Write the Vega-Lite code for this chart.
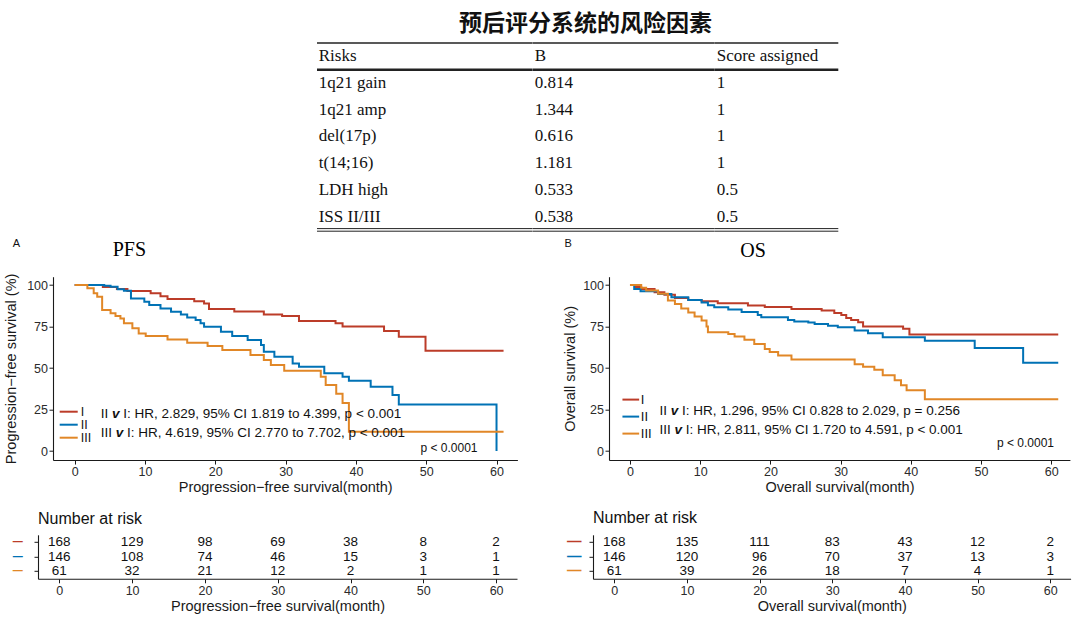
{
  "$schema": "https://vega.github.io/schema/vega-lite/v6.json",
  "background": "white",
  "padding": {"left": 3, "top": 13, "right": 2, "bottom": 2},
  "config": {
    "view": {"stroke": null},
    "font": "Liberation Sans",
    "axis": {"domainColor": "#1a1a1a", "domainWidth": 1.1, "tickColor": "#1a1a1a", "tickSize": 4, "tickWidth": 1, "labelColor": "#2b2b2b", "labelFontSize": 12.5, "labelFont": "Liberation Sans", "titleFont": "Liberation Sans", "titleFontSize": 14.5, "titleFontWeight": "normal", "titleColor": "#1a1a1a", "grid": false, "labelPadding": 1.5, "titlePadding": 2.5, "labelFlush": false, "labelOverlap": false}
  },
  "title": {"text": "预后评分系统的风险因素", "anchor": "middle", "frame": "bounds", "dx": 48.3, "offset": -12, "baseline": "alphabetic", "font": "Noto Sans CJK SC", "fontSize": 23, "fontWeight": "bold", "color": "#111"},
  "datasets": {
    "table": [
      {"Risks": "Risks", "B": "B", "Score": "Score assigned"},
      {"Risks": "1q21 gain", "B": "0.814", "Score": "1"},
      {"Risks": "1q21 amp", "B": "1.344", "Score": "1"},
      {"Risks": "del(17p)", "B": "0.616", "Score": "1"},
      {"Risks": "t(14;16)", "B": "1.181", "Score": "1"},
      {"Risks": "LDH high", "B": "0.533", "Score": "0.5"},
      {"Risks": "ISS II/III", "B": "0.538", "Score": "0.5"}
    ],
    "pfs": [
      {"group": "I", "time": 0, "surv": 100}, {"group": "I", "time": 4, "surv": 98.8}, {"group": "I", "time": 6, "surv": 97.6}, {"group": "I", "time": 7.5, "surv": 96.4}, {"group": "I", "time": 10.8, "surv": 95}, {"group": "I", "time": 12.2, "surv": 93.2}, {"group": "I", "time": 13.2, "surv": 91.6}, {"group": "I", "time": 17, "surv": 90.2}, {"group": "I", "time": 18.4, "surv": 88.9}, {"group": "I", "time": 19.1, "surv": 85.5}, {"group": "I", "time": 22.7, "surv": 84}, {"group": "I", "time": 26.9, "surv": 82.3}, {"group": "I", "time": 29.5, "surv": 81.3}, {"group": "I", "time": 31.9, "surv": 78.3}, {"group": "I", "time": 37.1, "surv": 76.9}, {"group": "I", "time": 38.1, "surv": 75}, {"group": "I", "time": 44, "surv": 72.3}, {"group": "I", "time": 46.1, "surv": 68.9}, {"group": "I", "time": 49.9, "surv": 60.4}, {"group": "I", "time": 61, "surv": 60.4},
      {"group": "II", "time": 0, "surv": 100}, {"group": "II", "time": 4.2, "surv": 99.5}, {"group": "II", "time": 5.1, "surv": 99}, {"group": "II", "time": 6.1, "surv": 97.4}, {"group": "II", "time": 7, "surv": 96.6}, {"group": "II", "time": 8, "surv": 91.9}, {"group": "II", "time": 9.9, "surv": 89.9}, {"group": "II", "time": 10.6, "surv": 87.9}, {"group": "II", "time": 12.2, "surv": 85.9}, {"group": "II", "time": 13.7, "surv": 83.9}, {"group": "II", "time": 15.1, "surv": 82.3}, {"group": "II", "time": 16, "surv": 80.5}, {"group": "II", "time": 17.2, "surv": 78.9}, {"group": "II", "time": 17.9, "surv": 76.9}, {"group": "II", "time": 18.4, "surv": 74.9}, {"group": "II", "time": 20.8, "surv": 71.9}, {"group": "II", "time": 22.4, "surv": 69.3}, {"group": "II", "time": 24.6, "surv": 66.9}, {"group": "II", "time": 26.5, "surv": 63.9}, {"group": "II", "time": 26.9, "surv": 59.8}, {"group": "II", "time": 28.4, "surv": 56.8}, {"group": "II", "time": 31, "surv": 52.8}, {"group": "II", "time": 31.9, "surv": 50.8}, {"group": "II", "time": 35.5, "surv": 46.8}, {"group": "II", "time": 38.1, "surv": 44.8}, {"group": "II", "time": 39, "surv": 42.4}, {"group": "II", "time": 42.1, "surv": 38.7}, {"group": "II", "time": 45.2, "surv": 33.7}, {"group": "II", "time": 46.1, "surv": 28}, {"group": "II", "time": 60, "surv": 0},
      {"group": "III", "time": 0, "surv": 100}, {"group": "III", "time": 1.8, "surv": 98}, {"group": "III", "time": 2.7, "surv": 95}, {"group": "III", "time": 3.2, "surv": 93}, {"group": "III", "time": 3.9, "surv": 85}, {"group": "III", "time": 5.1, "surv": 83}, {"group": "III", "time": 5.8, "surv": 81.3}, {"group": "III", "time": 6.5, "surv": 79.8}, {"group": "III", "time": 7, "surv": 76.9}, {"group": "III", "time": 8.2, "surv": 73.9}, {"group": "III", "time": 9.1, "surv": 70.8}, {"group": "III", "time": 10.1, "surv": 69.3}, {"group": "III", "time": 13.2, "surv": 67.2}, {"group": "III", "time": 16, "surv": 65.2}, {"group": "III", "time": 18.9, "surv": 63.3}, {"group": "III", "time": 21, "surv": 60.8}, {"group": "III", "time": 25, "surv": 57.8}, {"group": "III", "time": 26.9, "surv": 54.8}, {"group": "III", "time": 27.9, "surv": 51.8}, {"group": "III", "time": 29.8, "surv": 48.3}, {"group": "III", "time": 35, "surv": 44.8}, {"group": "III", "time": 35.7, "surv": 39.8}, {"group": "III", "time": 37.2, "surv": 34.5}, {"group": "III", "time": 38.1, "surv": 29}, {"group": "III", "time": 39, "surv": 11.6}, {"group": "III", "time": 61, "surv": 11.6}
    ],
    "os": [
      {"group": "I", "time": 0, "surv": 100}, {"group": "I", "time": 0.8, "surv": 98.8}, {"group": "I", "time": 1.6, "surv": 97.6}, {"group": "I", "time": 3.5, "surv": 95.6}, {"group": "I", "time": 4.9, "surv": 94.2}, {"group": "I", "time": 6.4, "surv": 92.2}, {"group": "I", "time": 8.3, "surv": 91}, {"group": "I", "time": 10.2, "surv": 90.2}, {"group": "I", "time": 12.5, "surv": 89}, {"group": "I", "time": 16.8, "surv": 87.6}, {"group": "I", "time": 19.2, "surv": 86.8}, {"group": "I", "time": 23, "surv": 85.6}, {"group": "I", "time": 27.3, "surv": 84.6}, {"group": "I", "time": 29.1, "surv": 83.2}, {"group": "I", "time": 30.1, "surv": 82}, {"group": "I", "time": 30.8, "surv": 80.2}, {"group": "I", "time": 31.5, "surv": 79}, {"group": "I", "time": 32.5, "surv": 77.6}, {"group": "I", "time": 33.2, "surv": 75}, {"group": "I", "time": 38.9, "surv": 73.6}, {"group": "I", "time": 39.8, "surv": 70.2}, {"group": "I", "time": 61, "surv": 70.2},
      {"group": "II", "time": 0, "surv": 100}, {"group": "II", "time": 0.6, "surv": 97.6}, {"group": "II", "time": 1.5, "surv": 96.2}, {"group": "II", "time": 4, "surv": 94.6}, {"group": "II", "time": 5.9, "surv": 92.7}, {"group": "II", "time": 8.3, "surv": 91}, {"group": "II", "time": 10.2, "surv": 89.4}, {"group": "II", "time": 11.1, "surv": 87.8}, {"group": "II", "time": 12, "surv": 86.6}, {"group": "II", "time": 14, "surv": 85.2}, {"group": "II", "time": 15.9, "surv": 83.8}, {"group": "II", "time": 18.2, "surv": 82}, {"group": "II", "time": 18.7, "surv": 80.6}, {"group": "II", "time": 22.5, "surv": 79}, {"group": "II", "time": 23.4, "surv": 78}, {"group": "II", "time": 25.4, "surv": 77.4}, {"group": "II", "time": 26.3, "surv": 76.5}, {"group": "II", "time": 28.2, "surv": 75.5}, {"group": "II", "time": 29.6, "surv": 74.6}, {"group": "II", "time": 32, "surv": 72.6}, {"group": "II", "time": 33.9, "surv": 71}, {"group": "II", "time": 36, "surv": 68.6}, {"group": "II", "time": 42, "surv": 66.4}, {"group": "II", "time": 49.1, "surv": 62}, {"group": "II", "time": 56, "surv": 53.2}, {"group": "II", "time": 61, "surv": 53.2},
      {"group": "III", "time": 0, "surv": 100}, {"group": "III", "time": 1.6, "surv": 98.4}, {"group": "III", "time": 2.3, "surv": 96.7}, {"group": "III", "time": 4, "surv": 94.8}, {"group": "III", "time": 5.4, "surv": 90.7}, {"group": "III", "time": 6.4, "surv": 88.6}, {"group": "III", "time": 7.3, "surv": 85.8}, {"group": "III", "time": 8.3, "surv": 83.4}, {"group": "III", "time": 9.2, "surv": 81}, {"group": "III", "time": 10.2, "surv": 78.6}, {"group": "III", "time": 10.9, "surv": 75}, {"group": "III", "time": 11.1, "surv": 71.5}, {"group": "III", "time": 14, "surv": 70.5}, {"group": "III", "time": 14.9, "surv": 69}, {"group": "III", "time": 16.3, "surv": 67}, {"group": "III", "time": 17.7, "surv": 64.5}, {"group": "III", "time": 19.2, "surv": 61.5}, {"group": "III", "time": 19.9, "surv": 59.6}, {"group": "III", "time": 21.1, "surv": 57.6}, {"group": "III", "time": 23, "surv": 55.2}, {"group": "III", "time": 32, "surv": 52.3}, {"group": "III", "time": 33.2, "surv": 50.8}, {"group": "III", "time": 34.8, "surv": 49}, {"group": "III", "time": 36, "surv": 45.6}, {"group": "III", "time": 37.7, "surv": 42.6}, {"group": "III", "time": 38.6, "surv": 39.6}, {"group": "III", "time": 39.4, "surv": 36.6}, {"group": "III", "time": 42, "surv": 31.2}, {"group": "III", "time": 61, "surv": 31.2}
    ],
    "pfs_risk": [
      {"group": "I", "time": 0, "n": 168}, {"group": "I", "time": 10, "n": 129}, {"group": "I", "time": 20, "n": 98}, {"group": "I", "time": 30, "n": 69}, {"group": "I", "time": 40, "n": 38}, {"group": "I", "time": 50, "n": 8}, {"group": "I", "time": 60, "n": 2},
      {"group": "II", "time": 0, "n": 146}, {"group": "II", "time": 10, "n": 108}, {"group": "II", "time": 20, "n": 74}, {"group": "II", "time": 30, "n": 46}, {"group": "II", "time": 40, "n": 15}, {"group": "II", "time": 50, "n": 3}, {"group": "II", "time": 60, "n": 1},
      {"group": "III", "time": 0, "n": 61}, {"group": "III", "time": 10, "n": 32}, {"group": "III", "time": 20, "n": 21}, {"group": "III", "time": 30, "n": 12}, {"group": "III", "time": 40, "n": 2}, {"group": "III", "time": 50, "n": 1}, {"group": "III", "time": 60, "n": 1}
    ],
    "os_risk": [
      {"group": "I", "time": 0, "n": 168}, {"group": "I", "time": 10, "n": 135}, {"group": "I", "time": 20, "n": 111}, {"group": "I", "time": 30, "n": 83}, {"group": "I", "time": 40, "n": 43}, {"group": "I", "time": 50, "n": 12}, {"group": "I", "time": 60, "n": 2},
      {"group": "II", "time": 0, "n": 146}, {"group": "II", "time": 10, "n": 120}, {"group": "II", "time": 20, "n": 96}, {"group": "II", "time": 30, "n": 70}, {"group": "II", "time": 40, "n": 37}, {"group": "II", "time": 50, "n": 13}, {"group": "II", "time": 60, "n": 3},
      {"group": "III", "time": 0, "n": 61}, {"group": "III", "time": 10, "n": 39}, {"group": "III", "time": 20, "n": 26}, {"group": "III", "time": 30, "n": 18}, {"group": "III", "time": 40, "n": 7}, {"group": "III", "time": 50, "n": 4}, {"group": "III", "time": 60, "n": 1}
    ]
  },
  "spacing": 4.7,
  "resolve": {"scale": {"x": "independent", "y": "independent", "color": "independent"}, "legend": {"color": "independent"}, "axis": {"x": "independent", "y": "independent"}},
  "vconcat": [
    {
      "spacing": 0,
      "bounds": "flush",
      "resolve": {"scale": {"x": "independent", "y": "independent", "color": "independent"}, "legend": {"color": "independent"}, "axis": {"x": "independent", "y": "independent"}},
      "hconcat": [
        {"width": 278.1, "height": 1, "data": {"values": []}, "mark": {"type": "point", "opacity": 0}, "encoding": {}},
        {
          "width": 215.7, "height": 186.9,
          "data": {"name": "table"},
          "layer": [
            {"mark": {"type": "text", "align": "left", "baseline": "middle", "dx": 1.7, "font": "Liberation Serif", "fontSize": 17, "color": "#111"},
             "encoding": {"x": {"datum": 0, "type": "quantitative", "scale": {"domain": [0, 1]}, "axis": null},
                          "y": {"field": "Risks", "type": "nominal", "scale": {"type": "band", "paddingInner": 0, "paddingOuter": 0, "domain": ["Risks", "1q21 gain", "1q21 amp", "del(17p)", "t(14;16)", "LDH high", "ISS II/III"]}, "axis": null},
                          "text": {"field": "Risks"}}},
            {"data": {"values": [{}]}, "mark": {"type": "rule", "strokeWidth": 1.5, "color": "#222"}, "encoding": {"y": {"datum": "Risks", "type": "nominal", "bandPosition": 0}}},
            {"data": {"values": [{}]}, "mark": {"type": "rule", "strokeWidth": 2.4, "color": "#222"}, "encoding": {"y": {"datum": "1q21 gain", "type": "nominal", "bandPosition": 0}}},
            {"data": {"values": [{}]}, "mark": {"type": "rule", "strokeWidth": 1, "color": "#222", "yOffset": -1.3}, "encoding": {"y": {"datum": "ISS II/III", "type": "nominal", "bandPosition": 1}}},
            {"data": {"values": [{}]}, "mark": {"type": "rule", "strokeWidth": 1, "color": "#222", "yOffset": 1.3}, "encoding": {"y": {"datum": "ISS II/III", "type": "nominal", "bandPosition": 1}}}
          ]
        },
        {
          "width": 181.8, "height": 186.9,
          "data": {"name": "table"},
          "layer": [
            {"mark": {"type": "text", "align": "left", "baseline": "middle", "dx": 1.7, "font": "Liberation Serif", "fontSize": 17, "color": "#111"},
             "encoding": {"x": {"datum": 0, "type": "quantitative", "scale": {"domain": [0, 1]}, "axis": null},
                          "y": {"field": "Risks", "type": "nominal", "scale": {"type": "band", "paddingInner": 0, "paddingOuter": 0, "domain": ["Risks", "1q21 gain", "1q21 amp", "del(17p)", "t(14;16)", "LDH high", "ISS II/III"]}, "axis": null},
                          "text": {"field": "B"}}},
            {"data": {"values": [{}]}, "mark": {"type": "rule", "strokeWidth": 1.5, "color": "#222"}, "encoding": {"y": {"datum": "Risks", "type": "nominal", "bandPosition": 0}}},
            {"data": {"values": [{}]}, "mark": {"type": "rule", "strokeWidth": 2.4, "color": "#222"}, "encoding": {"y": {"datum": "1q21 gain", "type": "nominal", "bandPosition": 0}}},
            {"data": {"values": [{}]}, "mark": {"type": "rule", "strokeWidth": 1, "color": "#222", "yOffset": -1.3}, "encoding": {"y": {"datum": "ISS II/III", "type": "nominal", "bandPosition": 1}}},
            {"data": {"values": [{}]}, "mark": {"type": "rule", "strokeWidth": 1, "color": "#222", "yOffset": 1.3}, "encoding": {"y": {"datum": "ISS II/III", "type": "nominal", "bandPosition": 1}}}
          ]
        },
        {
          "width": 123.3, "height": 186.9,
          "data": {"name": "table"},
          "layer": [
            {"mark": {"type": "text", "align": "left", "baseline": "middle", "dx": 1.7, "font": "Liberation Serif", "fontSize": 17, "color": "#111"},
             "encoding": {"x": {"datum": 0, "type": "quantitative", "scale": {"domain": [0, 1]}, "axis": null},
                          "y": {"field": "Risks", "type": "nominal", "scale": {"type": "band", "paddingInner": 0, "paddingOuter": 0, "domain": ["Risks", "1q21 gain", "1q21 amp", "del(17p)", "t(14;16)", "LDH high", "ISS II/III"]}, "axis": null},
                          "text": {"field": "Score"}}},
            {"data": {"values": [{}]}, "mark": {"type": "rule", "strokeWidth": 1.5, "color": "#222"}, "encoding": {"y": {"datum": "Risks", "type": "nominal", "bandPosition": 0}}},
            {"data": {"values": [{}]}, "mark": {"type": "rule", "strokeWidth": 2.4, "color": "#222"}, "encoding": {"y": {"datum": "1q21 gain", "type": "nominal", "bandPosition": 0}}},
            {"data": {"values": [{}]}, "mark": {"type": "rule", "strokeWidth": 1, "color": "#222", "yOffset": -1.3}, "encoding": {"y": {"datum": "ISS II/III", "type": "nominal", "bandPosition": 1}}},
            {"data": {"values": [{}]}, "mark": {"type": "rule", "strokeWidth": 1, "color": "#222", "yOffset": 1.3}, "encoding": {"y": {"datum": "ISS II/III", "type": "nominal", "bandPosition": 1}}}
          ]
        }
      ]
    },
    {
      "spacing": 15.1,
      "resolve": {"scale": {"x": "independent", "y": "independent", "color": "independent"}, "legend": {"color": "independent"}, "axis": {"x": "independent", "y": "independent"}},
      "vconcat": [
        {
          "spacing": 0,
          "bounds": "flush",
          "resolve": {"scale": {"x": "independent", "y": "independent", "color": "independent"}, "legend": {"color": "independent"}, "axis": {"x": "independent", "y": "independent"}},
          "hconcat": [
            {"width": 14.6, "height": 1, "data": {"values": []}, "mark": {"type": "point", "opacity": 0}, "encoding": {}},
            {
              "width": 464.4, "height": 183.35,
              "layer": [
                {"data": {"name": "pfs"}, "mark": {"type": "line", "interpolate": "step-after", "strokeWidth": 2},
                 "encoding": {
                   "x": {"field": "time", "type": "quantitative", "scale": {"domain": [-3.09, 62.97], "nice": false, "zero": false}, "axis": {"values": [0, 10, 20, 30, 40, 50, 60], "title": "Progression−free survival(month)"}},
                   "y": {"field": "surv", "type": "quantitative", "scale": {"domain": [-5.4, 105], "nice": false, "zero": false}, "axis": {"values": [0, 25, 50, 75, 100], "title": "Progression−free survival  (%)", "titlePadding": 8}},
                   "color": {"field": "group", "type": "nominal", "scale": {"domain": ["I", "II", "III"], "range": ["#BC3C29", "#0072B5", "#E18727"]},
                             "legend": {"orient": "none", "legendX": 9.2, "legendY": 128.5, "title": null, "symbolType": "M-1.64,0H1.64", "symbolSize": 121, "symbolStrokeWidth": 2, "labelFontSize": 12.5, "labelFont": "Liberation Sans", "labelColor": "#111", "rowPadding": -5, "labelOffset": 5.5, "padding": 0}}
                 }},
                {"data": {"values": [{}]}, "mark": {"type": "text", "align": "left", "baseline": "alphabetic", "font": "Liberation Serif", "fontSize": 20, "color": "#000"}, "encoding": {"x": {"datum": 5.4}, "y": {"datum": 117.2}, "text": {"value": "PFS"}}},
                {"data": {"values": [{}]}, "mark": {"type": "text", "fontSize": 11, "color": "#111"}, "encoding": {"x": {"datum": -8.3}, "y": {"datum": 124.6}, "text": {"value": "A"}}},
                {"data": {"values": [{}]}, "mark": {"type": "text", "align": "left", "baseline": "middle", "fontSize": 13.5, "color": "#111"}, "encoding": {"x": {"datum": 3.7}, "y": {"datum": 22.6}, "text": {"value": "II"}}},
                {"data": {"values": [{}]}, "mark": {"type": "text", "align": "left", "baseline": "middle", "fontSize": 13.5, "color": "#111", "fontStyle": "italic", "fontWeight": "bold", "dx": 11.3}, "encoding": {"x": {"datum": 3.7}, "y": {"datum": 22.6}, "text": {"value": "v"}}},
                {"data": {"values": [{}]}, "mark": {"type": "text", "align": "left", "baseline": "middle", "fontSize": 13.5, "color": "#111", "dx": 22.5}, "encoding": {"x": {"datum": 3.7}, "y": {"datum": 22.6}, "text": {"value": "I: HR, 2.829, 95% CI 1.819 to 4.399, p < 0.001"}}},
                {"data": {"values": [{}]}, "mark": {"type": "text", "align": "left", "baseline": "middle", "fontSize": 13.5, "color": "#111"}, "encoding": {"x": {"datum": 3.7}, "y": {"datum": 10.6}, "text": {"value": "III"}}},
                {"data": {"values": [{}]}, "mark": {"type": "text", "align": "left", "baseline": "middle", "fontSize": 13.5, "color": "#111", "fontStyle": "italic", "fontWeight": "bold", "dx": 15}, "encoding": {"x": {"datum": 3.7}, "y": {"datum": 10.6}, "text": {"value": "v"}}},
                {"data": {"values": [{}]}, "mark": {"type": "text", "align": "left", "baseline": "middle", "fontSize": 13.5, "color": "#111", "dx": 26.3}, "encoding": {"x": {"datum": 3.7}, "y": {"datum": 10.6}, "text": {"value": "I: HR, 4.619, 95% CI 2.770 to 7.702, p < 0.001"}}},
                {"data": {"values": [{}]}, "mark": {"type": "text", "align": "right", "baseline": "middle", "fontSize": 12, "color": "#111"}, "encoding": {"x": {"datum": 57.3}, "y": {"datum": 2}, "text": {"value": "p < 0.0001"}}}
              ]
            },
            {"width": 91, "height": 1, "data": {"values": []}, "mark": {"type": "point", "opacity": 0}, "encoding": {}},
            {
              "width": 460.9, "height": 183.35,
              "layer": [
                {"data": {"name": "os"}, "mark": {"type": "line", "interpolate": "step-after", "strokeWidth": 2},
                 "encoding": {
                   "x": {"field": "time", "type": "quantitative", "scale": {"domain": [-2.99, 62.66], "nice": false, "zero": false}, "axis": {"values": [0, 10, 20, 30, 40, 50, 60], "title": "Overall survival(month)"}},
                   "y": {"field": "surv", "type": "quantitative", "scale": {"domain": [-5.4, 105], "nice": false, "zero": false}, "axis": {"values": [0, 25, 50, 75, 100], "title": "Overall survival (%)", "titlePadding": 5}},
                   "color": {"field": "group", "type": "nominal", "scale": {"domain": ["I", "II", "III"], "range": ["#BC3C29", "#0072B5", "#E18727"]},
                             "legend": {"orient": "none", "legendX": 12.3, "legendY": 113.4, "title": null, "symbolType": "stroke", "symbolSize": 279, "symbolStrokeWidth": 2, "labelFontSize": 13, "labelFont": "Liberation Sans", "labelColor": "#111", "rowPadding": 0, "labelOffset": 0.5, "padding": 0}}
                 }},
                {"data": {"values": [{}]}, "mark": {"type": "text", "align": "left", "baseline": "alphabetic", "font": "Liberation Serif", "fontSize": 20, "color": "#000"}, "encoding": {"x": {"datum": 15.7}, "y": {"datum": 116.7}, "text": {"value": "OS"}}},
                {"data": {"values": [{}]}, "mark": {"type": "text", "fontSize": 11, "color": "#111"}, "encoding": {"x": {"datum": -8.8}, "y": {"datum": 124.9}, "text": {"value": "B"}}},
                {"data": {"values": [{}]}, "mark": {"type": "text", "align": "left", "baseline": "middle", "fontSize": 13.5, "color": "#111"}, "encoding": {"x": {"datum": 4.2}, "y": {"datum": 24.2}, "text": {"value": "II"}}},
                {"data": {"values": [{}]}, "mark": {"type": "text", "align": "left", "baseline": "middle", "fontSize": 13.5, "color": "#111", "fontStyle": "italic", "fontWeight": "bold", "dx": 11.3}, "encoding": {"x": {"datum": 4.2}, "y": {"datum": 24.2}, "text": {"value": "v"}}},
                {"data": {"values": [{}]}, "mark": {"type": "text", "align": "left", "baseline": "middle", "fontSize": 13.5, "color": "#111", "dx": 22.5}, "encoding": {"x": {"datum": 4.2}, "y": {"datum": 24.2}, "text": {"value": "I: HR, 1.296, 95% CI 0.828 to 2.029, p = 0.256"}}},
                {"data": {"values": [{}]}, "mark": {"type": "text", "align": "left", "baseline": "middle", "fontSize": 13.5, "color": "#111"}, "encoding": {"x": {"datum": 4.2}, "y": {"datum": 12.8}, "text": {"value": "III"}}},
                {"data": {"values": [{}]}, "mark": {"type": "text", "align": "left", "baseline": "middle", "fontSize": 13.5, "color": "#111", "fontStyle": "italic", "fontWeight": "bold", "dx": 15}, "encoding": {"x": {"datum": 4.2}, "y": {"datum": 12.8}, "text": {"value": "v"}}},
                {"data": {"values": [{}]}, "mark": {"type": "text", "align": "left", "baseline": "middle", "fontSize": 13.5, "color": "#111", "dx": 26.3}, "encoding": {"x": {"datum": 4.2}, "y": {"datum": 12.8}, "text": {"value": "I: HR, 2.811, 95% CI 1.720 to 4.591, p < 0.001"}}},
                {"data": {"values": [{}]}, "mark": {"type": "text", "align": "right", "baseline": "middle", "fontSize": 12, "color": "#111"}, "encoding": {"x": {"datum": 60.4}, "y": {"datum": 5}, "text": {"value": "p < 0.0001"}}}
              ]
            }
          ]
        },
        {
          "spacing": 76,
          "bounds": "flush",
          "resolve": {"scale": {"x": "independent", "y": "independent", "color": "independent"}, "legend": {"color": "independent"}, "axis": {"x": "independent", "y": "independent"}},
          "hconcat": [
            {
              "width": 479, "height": 44,
              "title": {"text": "Number at risk", "anchor": "start", "frame": "group", "offset": -5.2, "baseline": "alphabetic", "fontSize": 16, "fontWeight": "normal", "font": "Liberation Sans", "color": "#111"},
              "data": {"name": "pfs_risk"},
              "mark": {"type": "text", "fontSize": 13.5, "color": "#111", "baseline": "middle"},
              "encoding": {
                "x": {"field": "time", "type": "quantitative", "scale": {"domain": [-2.93, 62.87], "nice": false, "zero": false}, "axis": {"values": [0, 10, 20, 30, 40, 50, 60], "title": "Progression−free survival(month)"}},
                "y": {"field": "group", "type": "nominal", "scale": {"type": "band", "domain": ["I", "II", "III"], "paddingInner": 0, "paddingOuter": 0},
                      "axis": {"title": null, "labelExpr": "'—'", "labelColor": {"condition": [{"test": "datum.value === 'I'", "value": "#BC3C29"}, {"test": "datum.value === 'II'", "value": "#0072B5"}], "value": "#E18727"}, "labelFontSize": 10, "labelFontWeight": "bold", "labelPadding": 11.7}},
                "text": {"field": "n", "type": "quantitative"}
              }
            },
            {
              "width": 477.6, "height": 44,
              "title": {"text": "Number at risk", "anchor": "start", "frame": "group", "offset": -5.2, "baseline": "alphabetic", "fontSize": 16, "fontWeight": "normal", "font": "Liberation Sans", "color": "#111"},
              "data": {"name": "os_risk"},
              "mark": {"type": "text", "fontSize": 13.5, "color": "#111", "baseline": "middle"},
              "encoding": {
                "x": {"field": "time", "type": "quantitative", "scale": {"domain": [-2.93, 62.8], "nice": false, "zero": false}, "axis": {"values": [0, 10, 20, 30, 40, 50, 60], "title": "Overall survival(month)"}},
                "y": {"field": "group", "type": "nominal", "scale": {"type": "band", "domain": ["I", "II", "III"], "paddingInner": 0, "paddingOuter": 0},
                      "axis": {"title": null, "labelExpr": "'—'", "labelColor": {"condition": [{"test": "datum.value === 'I'", "value": "#BC3C29"}, {"test": "datum.value === 'II'", "value": "#0072B5"}], "value": "#E18727"}, "labelFontSize": 14.5, "labelFontWeight": "bold", "labelPadding": 8}},
                "text": {"field": "n", "type": "quantitative"}
              }
            }
          ]
        }
      ]
    }
  ]
}
